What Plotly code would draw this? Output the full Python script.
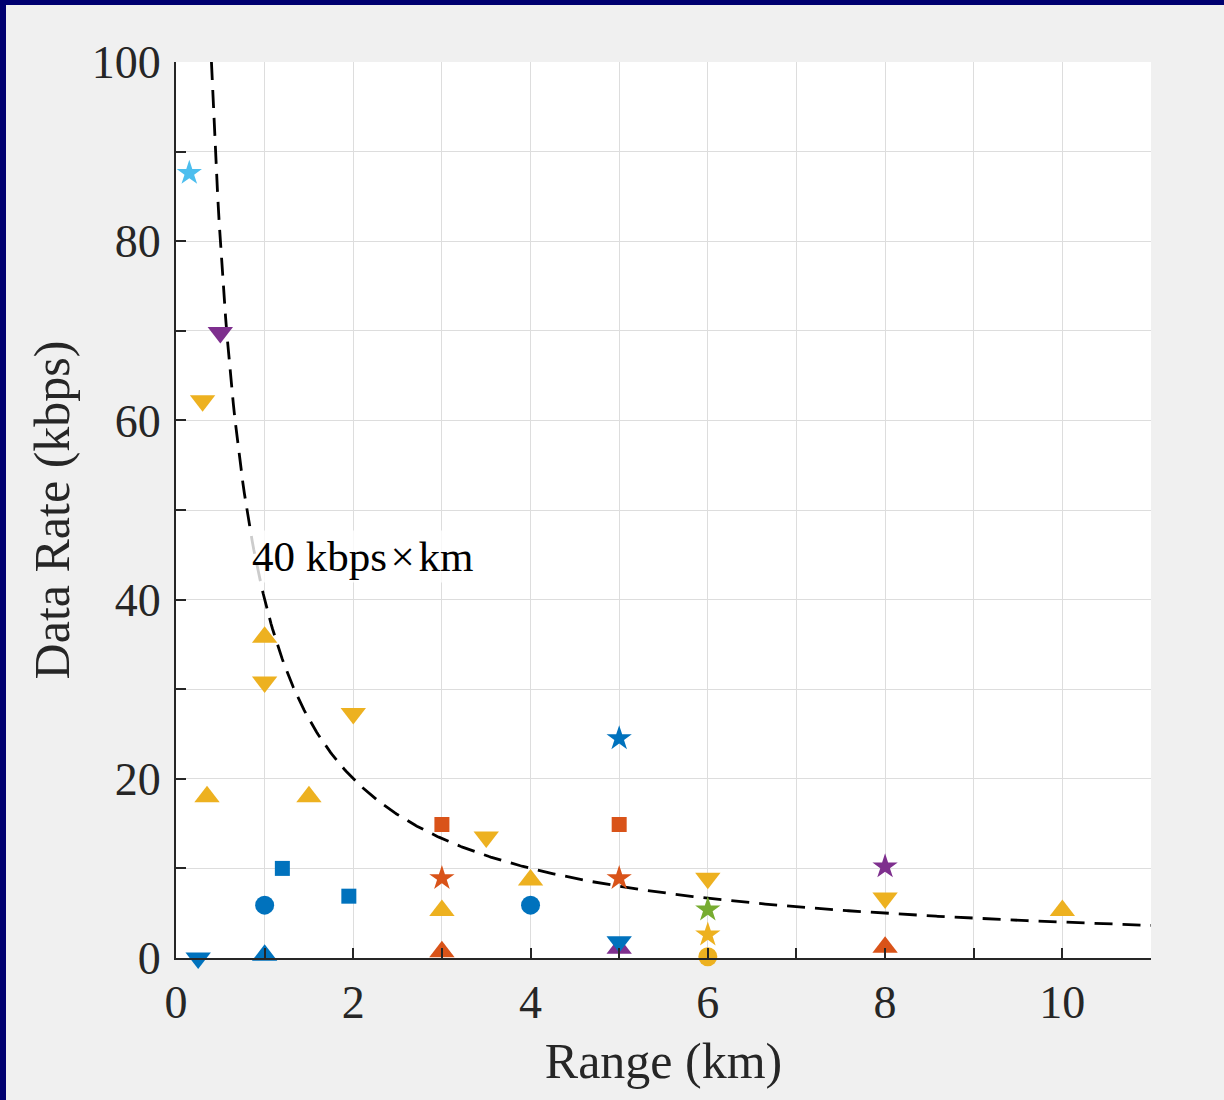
import numpy as np
import plotly.graph_objects as go

# ---- data ----
system_ids = ["S1", "S2", "S3", "S4", "S5", "S6", "S7", "S8", "S9",
              "S10", "S11", "S12", "S13", "S14", "S15", "S16", "S17"]

range_km = {
    "S1": [1.0, 4.0],
    "S2": [1.2, 1.95],
    "S3": [5.0],
    "S4": [0.25, 5.0],
    "S5": [1.0],
    "S6": [5.0],
    "S7": [3.0, 5.0],
    "S8": [3.0, 5.0],
    "S9": [3.0, 8.0],
    "S10": [1.0, 0.35, 1.5, 3.0, 4.0, 10.0],
    "S11": [0.3, 1.0, 2.0, 3.5, 6.0, 8.0],
    "S12": [6.0],
    "S13": [6.0],
    "S14": [0.5],
    "S15": [8.0],
    "S16": [6.0],
    "S17": [0.15],
}
rate_kbps = {
    "S1": [5.9, 5.9],
    "S2": [10.0, 6.9],
    "S3": [1.1],
    "S4": [0.0, 1.8],
    "S5": [0.3],
    "S6": [24.5],
    "S7": [14.9, 14.9],
    "S8": [8.9, 8.9],
    "S9": [0.7, 1.2],
    "S10": [35.8, 18.0, 18.0, 5.3, 8.7, 5.3],
    "S11": [62.2, 30.8, 27.3, 13.5, 8.9, 6.7],
    "S12": [2.6],
    "S13": [0.15],
    "S14": [69.8],
    "S15": [10.2],
    "S16": [5.4],
    "S17": [87.6],
}
rate_range_product = 40  # kbps x km
x_tick_values = list(range(0, 12))
x_tick_labels = ["0", "", "2", "", "4", "", "6", "", "8", "", "10", ""]
y_tick_values = list(range(0, 101, 10))
y_tick_labels = ["0", "", "20", "", "40", "", "60", "", "80", "", "100"]

# ---- styles ----
BLUE, ORANGE, YELLOW = "#0072BD", "#D95319", "#EDB120"
PURPLE, GREEN, LBLUE = "#7E2F8E", "#77AC30", "#4DBEEE"
TRI, STAR, CIRC, SQ = 22, 19, 19, 15
style = {
    "S1": (BLUE, "circle", CIRC),
    "S2": (BLUE, "square", SQ),
    "S3": (PURPLE, "triangle-up", TRI),
    "S4": (BLUE, "triangle-down", TRI),
    "S5": (BLUE, "triangle-up", TRI),
    "S6": (BLUE, "star", STAR),
    "S7": (ORANGE, "square", SQ),
    "S8": (ORANGE, "star", STAR),
    "S9": (ORANGE, "triangle-up", TRI),
    "S10": (YELLOW, "triangle-up", TRI),
    "S11": (YELLOW, "triangle-down", TRI),
    "S12": (YELLOW, "star", STAR),
    "S13": (YELLOW, "circle", CIRC),
    "S14": (PURPLE, "triangle-down", TRI),
    "S15": (PURPLE, "star", STAR),
    "S16": (GREEN, "star", STAR),
    "S17": (LBLUE, "star", STAR),
}

FONT = "Liberation Serif, Times New Roman, serif"
TXT = "#262626"

fig = go.Figure()

# reference curve: rate = 40 / range
xc = np.linspace(rate_range_product / 100.0, 11, 600)
fig.add_trace(go.Scatter(x=xc, y=rate_range_product / xc, mode="lines",
                         line=dict(color="black", width=2.8, dash="18px,10px"),
                         showlegend=False, hoverinfo="skip"))

for sid in system_ids:
    c, sym, sz = style[sid]
    fig.add_trace(go.Scatter(x=range_km[sid], y=rate_kbps[sid], mode="markers",
                             name=sid, showlegend=False, cliponaxis=False,
                             marker=dict(color=c, symbol=sym, size=sz,
                                         line=dict(width=0))))

fig.add_annotation(x=0.82, y=44.8, xref="x", yref="y", xanchor="left", yanchor="middle",
                   text="40 kbps\u200a×\u200akm", showarrow=False,
                   font=dict(family=FONT, size=43, color="black"),
                   bgcolor="rgba(255,255,255,0.8)", borderpad=2)

# navy frame at top and left edges of the figure
L, R, T, B = 176, 73, 62, 142
W, H = 1224, 1100
pw, ph = W - L - R, H - T - B
def px_x(p):
    return (p - L) / pw
def px_y(p):
    return (H - B - p) / ph
fig.add_shape(type="rect", xref="paper", yref="paper",
              x0=px_x(0), x1=px_x(6), y0=px_y(H), y1=px_y(0),
              fillcolor="#000070", line=dict(width=0), layer="above")
fig.add_shape(type="rect", xref="paper", yref="paper",
              x0=px_x(0), x1=px_x(W), y0=px_y(5), y1=px_y(0),
              fillcolor="#000070", line=dict(width=0), layer="above")

axis_common = dict(
    showgrid=True, gridcolor="#dddddd", gridwidth=1,
    showline=True, linecolor=TXT, linewidth=2,
    ticks="inside", ticklen=10, tickwidth=2, tickcolor=TXT,
    tickfont=dict(family=FONT, size=46, color=TXT),
    zeroline=False, mirror=False,
)
fig.update_xaxes(range=[0, 11], tickmode="array", tickvals=x_tick_values,
                 ticktext=x_tick_labels, ticklabelstandoff=3,
                 title=dict(text="Range (km)", font=dict(family=FONT, size=50, color=TXT),
                            standoff=16),
                 **axis_common)
fig.update_yaxes(range=[0, 100], tickmode="array", tickvals=y_tick_values,
                 ticktext=y_tick_labels, ticklabelstandoff=4,
                 title=dict(text="Data Rate (kbps)", font=dict(family=FONT, size=50, color=TXT),
                            standoff=6),
                 **axis_common)

fig.update_layout(width=W, height=H, autosize=False,
                  margin=dict(l=L, r=R, t=T, b=B, pad=0),
                  paper_bgcolor="#f0f0f0", plot_bgcolor="white",
                  showlegend=False)

fig.write_html("out.html", config={"displayModeBar": False},
               post_script="document.body.style.margin='0px';"
                           "document.body.style.overflow='hidden';")
